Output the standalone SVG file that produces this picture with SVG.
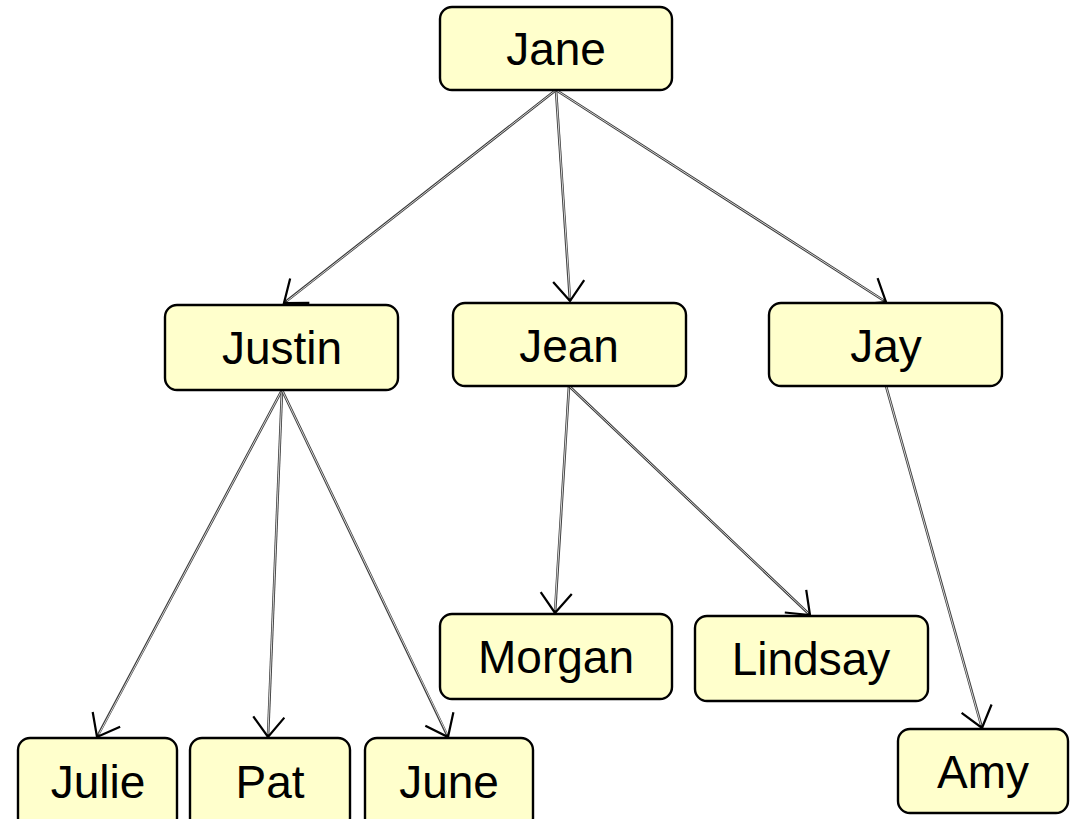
<svg xmlns="http://www.w3.org/2000/svg" width="1074" height="819" viewBox="0 0 1074 819">
  <style>
    .node rect { fill: #ffffcc; stroke: #000; stroke-width: 2.4; }
    .node text { font-family: "Liberation Sans", Arial, sans-serif; font-size: 46px; fill: #000; text-anchor: middle; }
    .edge-out { stroke: #3a3a3a; stroke-width: 2.6; fill: none; marker-end: url(#arrow); }
    .edge-in { stroke: #e6e6e6; stroke-width: 0.9; fill: none; }
  </style>
  <defs>
    <marker id="arrow" markerUnits="userSpaceOnUse" orient="auto" markerWidth="30" markerHeight="40" viewBox="-22 -18 26 36" refX="0" refY="0">
      <path d="M-18,-14 L0,0 L-18,14" fill="none" stroke="#000" stroke-width="2"/>
    </marker>
  </defs>
  <rect width="1074" height="819" fill="#fff"/>

  <g id="connectors">
    <!-- Jane to children -->
    <line class="edge-out" x1="556" y1="90" x2="284" y2="303"/>
    <line class="edge-in" x1="556" y1="90" x2="287" y2="301"/>
    <line class="edge-out" x1="556" y1="90" x2="570" y2="301"/>
    <line class="edge-in" x1="556" y1="90" x2="570" y2="298"/>
    <line class="edge-out" x1="556" y1="90" x2="886" y2="302"/>
    <line class="edge-in" x1="556" y1="90" x2="883" y2="300"/>
    <!-- Justin to children -->
    <line class="edge-out" x1="282" y1="390" x2="97" y2="737"/>
    <line class="edge-in" x1="282" y1="390" x2="99" y2="734"/>
    <line class="edge-out" x1="282" y1="390" x2="268" y2="737"/>
    <line class="edge-in" x1="282" y1="390" x2="268" y2="734"/>
    <line class="edge-out" x1="282" y1="390" x2="448" y2="737"/>
    <line class="edge-in" x1="282" y1="390" x2="447" y2="734"/>
    <!-- Jean to children -->
    <line class="edge-out" x1="569" y1="386" x2="555" y2="613"/>
    <line class="edge-in" x1="569" y1="386" x2="555" y2="610"/>
    <line class="edge-out" x1="569" y1="386" x2="810" y2="615"/>
    <line class="edge-in" x1="569" y1="386" x2="808" y2="613"/>
    <!-- Jay to child -->
    <line class="edge-out" x1="886" y1="386" x2="982" y2="728"/>
    <line class="edge-in" x1="886" y1="386" x2="981" y2="725"/>
  </g>

  <g id="node-jane" class="node">
    <rect x="440" y="7" width="232" height="83" rx="12"/>
    <text x="556" y="65">Jane</text>
  </g>
  <g id="node-justin" class="node">
    <rect x="165" y="305" width="233" height="85" rx="12"/>
    <text x="282" y="364">Justin</text>
  </g>
  <g id="node-jean" class="node">
    <rect x="453" y="303" width="233" height="83" rx="12"/>
    <text x="569" y="362">Jean</text>
  </g>
  <g id="node-jay" class="node">
    <rect x="769" y="303" width="233" height="83" rx="12"/>
    <text x="886" y="362">Jay</text>
  </g>
  <g id="node-morgan" class="node">
    <rect x="440" y="614" width="232" height="85" rx="12"/>
    <text x="556" y="673">Morgan</text>
  </g>
  <g id="node-lindsay" class="node">
    <rect x="695" y="616" width="233" height="85" rx="12"/>
    <text x="811" y="675">Lindsay</text>
  </g>
  <g id="node-julie" class="node">
    <rect x="18" y="738" width="159" height="92" rx="12"/>
    <text x="98" y="798">Julie</text>
  </g>
  <g id="node-pat" class="node">
    <rect x="190" y="738" width="160" height="92" rx="12"/>
    <text x="270" y="798">Pat</text>
  </g>
  <g id="node-june" class="node">
    <rect x="365" y="738" width="168" height="92" rx="12"/>
    <text x="449" y="798">June</text>
  </g>
  <g id="node-amy" class="node">
    <rect x="898" y="729" width="170" height="84" rx="12"/>
    <text x="983" y="788">Amy</text>
  </g>
</svg>
